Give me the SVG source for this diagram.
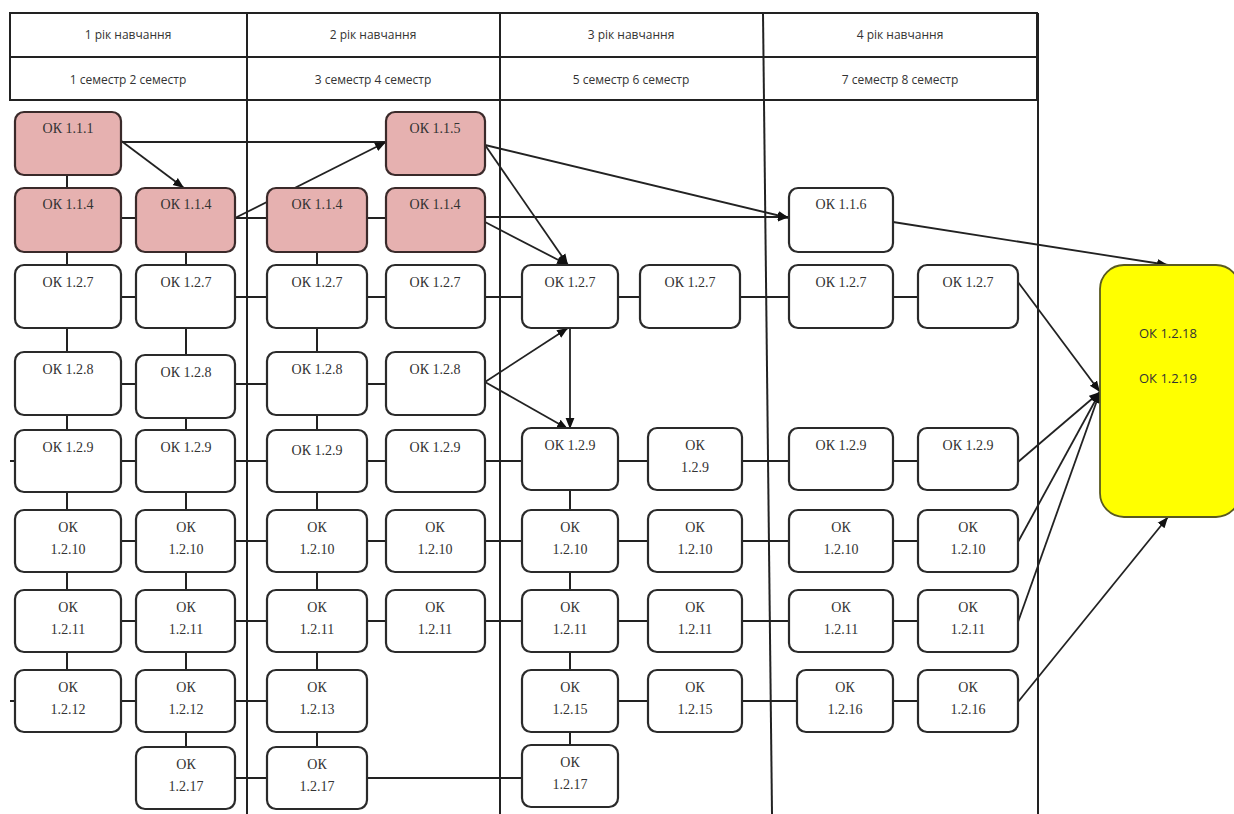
<svg xmlns="http://www.w3.org/2000/svg" width="1234" height="814" viewBox="0 0 1234 814">
<defs>
<marker id="ah" viewBox="0 0 10 10" refX="10" refY="5" markerWidth="11" markerHeight="11" markerUnits="userSpaceOnUse" orient="auto">
<path d="M0,1 L10,5 L0,9 z" fill="#111"/>
</marker>
<style>
.grid{stroke:#222;stroke-width:2;fill:none}
.c{stroke:#222;stroke-width:2;fill:none}
.a{stroke:#222;stroke-width:1.8;fill:none;marker-end:url(#ah)}
.b{fill:#fff;stroke:#2a2a2a;stroke-width:2.2}
.p{fill:#e6b1b0;stroke:#3a2a2a;stroke-width:2.2}
.y{fill:#ffff00;stroke:#5a5a20;stroke-width:1.8}
.t{font-family:"Liberation Serif","Times New Roman",serif;font-size:14px;fill:#333;text-anchor:middle}
.h{font-family:"Open Sans","Liberation Sans",sans-serif;font-size:12px;fill:#333;text-anchor:middle}
.yt{font-family:"Open Sans","Liberation Sans",sans-serif;font-size:13px;fill:#333;text-anchor:middle}
</style>
</defs>
<rect width="1234" height="814" fill="#fff"/>
<g id="header">
<rect class="grid" x="10" y="13" width="1027" height="87"/>
<line class="grid" x1="10" y1="57" x2="1037" y2="57"/>
<line class="grid" x1="247" y1="13" x2="247" y2="814"/>
<line class="grid" x1="500" y1="13" x2="500" y2="814"/>
<line class="grid" x1="763" y1="13" x2="772" y2="814"/>
<line class="grid" x1="1038" y1="13" x2="1038" y2="814" stroke-width="1.5"/>
<text class="h" x="128" y="39">1 рік навчання</text>
<text class="h" x="373" y="39">2 рік навчання</text>
<text class="h" x="631" y="39">3 рік навчання</text>
<text class="h" x="900" y="39">4 рік навчання</text>
<text class="h" x="128" y="84">1 семестр 2 семестр</text>
<text class="h" x="373" y="84">3 семестр 4 семестр</text>
<text class="h" x="631" y="84">5 семестр 6 семестр</text>
<text class="h" x="900" y="84">7 семестр 8 семестр</text>
</g>
<g id="connectors">
<!-- verticals -->
<line class="c" x1="67" y1="143" x2="67" y2="700"/>
<line class="c" x1="186" y1="220" x2="186" y2="777"/>
<line class="c" x1="317" y1="220" x2="317" y2="777"/>
<line class="c" x1="570" y1="460" x2="570" y2="777"/>
<!-- horizontals -->
<line class="c" x1="120" y1="142" x2="385" y2="142"/>
<line class="c" x1="67" y1="218" x2="435" y2="218"/>
<line class="c" x1="67" y1="297" x2="968" y2="297"/>
<line class="c" x1="67" y1="384" x2="435" y2="384"/>
<line class="c" x1="10" y1="461" x2="968" y2="461"/>
<line class="c" x1="67" y1="541" x2="968" y2="541"/>
<line class="c" x1="67" y1="621" x2="968" y2="621"/>
<line class="c" x1="10" y1="701" x2="317" y2="701"/>
<line class="c" x1="570" y1="701" x2="968" y2="701"/>
<line class="c" x1="186" y1="778" x2="570" y2="778"/>
<!-- arrows -->
<line class="a" x1="120" y1="140" x2="184" y2="188"/>
<line class="a" x1="235" y1="218" x2="386" y2="142"/>
<line class="a" x1="485" y1="145" x2="789" y2="218"/>
<line class="a" x1="485" y1="217" x2="789" y2="217"/>
<line class="a" x1="485" y1="145" x2="568" y2="265"/>
<line class="a" x1="485" y1="222" x2="568" y2="265"/>
<line class="a" x1="893" y1="222" x2="1168" y2="265"/>
<line class="a" x1="485" y1="382" x2="568" y2="328"/>
<line class="a" x1="485" y1="382" x2="568" y2="429"/>
<line class="a" x1="570" y1="328" x2="570" y2="429"/>
<line class="a" x1="1018" y1="282" x2="1100" y2="392"/>
<line class="a" x1="1018" y1="462" x2="1100" y2="392"/>
<line class="a" x1="1018" y1="542" x2="1100" y2="392"/>
<line class="a" x1="1018" y1="622" x2="1100" y2="392"/>
<line class="a" x1="1018" y1="702" x2="1168" y2="517"/>
</g>
<!-- row 1 -->
<g id="n-a1"><rect class="p" x="15" y="112" width="106" height="63" rx="9"/><text class="t" x="68" y="133">ОК 1.1.1</text></g>
<g id="n-d1"><rect class="p" x="386" y="112" width="99" height="63" rx="9"/><text class="t" x="435" y="133">ОК 1.1.5</text></g>
<!-- row 2 -->
<g id="n-a2"><rect class="p" x="15" y="188" width="106" height="64" rx="9"/><text class="t" x="68" y="209">ОК 1.1.4</text></g>
<g id="n-b2"><rect class="p" x="136" y="188" width="99" height="64" rx="9"/><text class="t" x="186" y="209">ОК 1.1.4</text></g>
<g id="n-c2"><rect class="p" x="267" y="188" width="100" height="64" rx="9"/><text class="t" x="317" y="209">ОК 1.1.4</text></g>
<g id="n-d2"><rect class="p" x="386" y="188" width="99" height="64" rx="9"/><text class="t" x="435" y="209">ОК 1.1.4</text></g>
<g id="n-g2"><rect class="b" x="789" y="188" width="104" height="64" rx="9"/><text class="t" x="841" y="209">ОК 1.1.6</text></g>
<!-- row 3 -->
<g id="n-a3"><rect class="b" x="15" y="265" width="106" height="63" rx="9"/><text class="t" x="68" y="287">ОК 1.2.7</text></g>
<g id="n-b3"><rect class="b" x="136" y="265" width="99" height="63" rx="9"/><text class="t" x="186" y="287">ОК 1.2.7</text></g>
<g id="n-c3"><rect class="b" x="267" y="265" width="100" height="63" rx="9"/><text class="t" x="317" y="287">ОК 1.2.7</text></g>
<g id="n-d3"><rect class="b" x="386" y="265" width="99" height="63" rx="9"/><text class="t" x="435" y="287">ОК 1.2.7</text></g>
<g id="n-e3"><rect class="b" x="522" y="265" width="96" height="63" rx="9"/><text class="t" x="570" y="287">ОК 1.2.7</text></g>
<g id="n-f3"><rect class="b" x="640" y="265" width="100" height="63" rx="9"/><text class="t" x="690" y="287">ОК 1.2.7</text></g>
<g id="n-g3"><rect class="b" x="789" y="265" width="104" height="63" rx="9"/><text class="t" x="841" y="287">ОК 1.2.7</text></g>
<g id="n-h3"><rect class="b" x="918" y="265" width="100" height="63" rx="9"/><text class="t" x="968" y="287">ОК 1.2.7</text></g>
<!-- row 4 -->
<g id="n-a4"><rect class="b" x="15" y="352" width="106" height="63" rx="9"/><text class="t" x="68" y="374">ОК 1.2.8</text></g>
<g id="n-b4"><rect class="b" x="136" y="355" width="99" height="63" rx="9"/><text class="t" x="186" y="377">ОК 1.2.8</text></g>
<g id="n-c4"><rect class="b" x="267" y="352" width="100" height="63" rx="9"/><text class="t" x="317" y="374">ОК 1.2.8</text></g>
<g id="n-d4"><rect class="b" x="386" y="352" width="99" height="63" rx="9"/><text class="t" x="435" y="374">ОК 1.2.8</text></g>
<!-- row 5 -->
<g id="n-a5"><rect class="b" x="15" y="430" width="106" height="62" rx="9"/><text class="t" x="68" y="452">ОК 1.2.9</text></g>
<g id="n-b5"><rect class="b" x="136" y="430" width="99" height="62" rx="9"/><text class="t" x="186" y="452">ОК 1.2.9</text></g>
<g id="n-c5"><rect class="b" x="267" y="430" width="100" height="62" rx="9"/><text class="t" x="317" y="455">ОК 1.2.9</text></g>
<g id="n-d5"><rect class="b" x="386" y="430" width="99" height="62" rx="9"/><text class="t" x="435" y="452">ОК 1.2.9</text></g>
<g id="n-e5"><rect class="b" x="522" y="428" width="96" height="62" rx="9"/><text class="t" x="570" y="450">ОК 1.2.9</text></g>
<g id="n-f5"><rect class="b" x="648" y="428" width="94" height="62" rx="9"/><text class="t" x="695" y="450">ОК</text><text class="t" x="695" y="472">1.2.9</text></g>
<g id="n-g5"><rect class="b" x="789" y="428" width="104" height="62" rx="9"/><text class="t" x="841" y="450">ОК 1.2.9</text></g>
<g id="n-h5"><rect class="b" x="918" y="428" width="100" height="62" rx="9"/><text class="t" x="968" y="450">ОК 1.2.9</text></g>
<!-- row 6 -->
<g id="n-a6"><rect class="b" x="15" y="510" width="106" height="62" rx="9"/><text class="t" x="68" y="532">ОК</text><text class="t" x="68" y="554">1.2.10</text></g>
<g id="n-b6"><rect class="b" x="136" y="510" width="99" height="62" rx="9"/><text class="t" x="186" y="532">ОК</text><text class="t" x="186" y="554">1.2.10</text></g>
<g id="n-c6"><rect class="b" x="267" y="510" width="100" height="62" rx="9"/><text class="t" x="317" y="532">ОК</text><text class="t" x="317" y="554">1.2.10</text></g>
<g id="n-d6"><rect class="b" x="386" y="510" width="99" height="62" rx="9"/><text class="t" x="435" y="532">ОК</text><text class="t" x="435" y="554">1.2.10</text></g>
<g id="n-e6"><rect class="b" x="522" y="510" width="96" height="62" rx="9"/><text class="t" x="570" y="532">ОК</text><text class="t" x="570" y="554">1.2.10</text></g>
<g id="n-f6"><rect class="b" x="648" y="510" width="94" height="62" rx="9"/><text class="t" x="695" y="532">ОК</text><text class="t" x="695" y="554">1.2.10</text></g>
<g id="n-g6"><rect class="b" x="789" y="510" width="104" height="62" rx="9"/><text class="t" x="841" y="532">ОК</text><text class="t" x="841" y="554">1.2.10</text></g>
<g id="n-h6"><rect class="b" x="918" y="510" width="100" height="62" rx="9"/><text class="t" x="968" y="532">ОК</text><text class="t" x="968" y="554">1.2.10</text></g>
<!-- row 7 -->
<g id="n-a7"><rect class="b" x="15" y="590" width="106" height="62" rx="9"/><text class="t" x="68" y="612">ОК</text><text class="t" x="68" y="634">1.2.11</text></g>
<g id="n-b7"><rect class="b" x="136" y="590" width="99" height="62" rx="9"/><text class="t" x="186" y="612">ОК</text><text class="t" x="186" y="634">1.2.11</text></g>
<g id="n-c7"><rect class="b" x="267" y="590" width="100" height="62" rx="9"/><text class="t" x="317" y="612">ОК</text><text class="t" x="317" y="634">1.2.11</text></g>
<g id="n-d7"><rect class="b" x="386" y="590" width="99" height="62" rx="9"/><text class="t" x="435" y="612">ОК</text><text class="t" x="435" y="634">1.2.11</text></g>
<g id="n-e7"><rect class="b" x="522" y="590" width="96" height="62" rx="9"/><text class="t" x="570" y="612">ОК</text><text class="t" x="570" y="634">1.2.11</text></g>
<g id="n-f7"><rect class="b" x="648" y="590" width="94" height="62" rx="9"/><text class="t" x="695" y="612">ОК</text><text class="t" x="695" y="634">1.2.11</text></g>
<g id="n-g7"><rect class="b" x="789" y="590" width="104" height="62" rx="9"/><text class="t" x="841" y="612">ОК</text><text class="t" x="841" y="634">1.2.11</text></g>
<g id="n-h7"><rect class="b" x="918" y="590" width="100" height="62" rx="9"/><text class="t" x="968" y="612">ОК</text><text class="t" x="968" y="634">1.2.11</text></g>
<!-- row 8 -->
<g id="n-a8"><rect class="b" x="15" y="670" width="106" height="62" rx="9"/><text class="t" x="68" y="692">ОК</text><text class="t" x="68" y="714">1.2.12</text></g>
<g id="n-b8"><rect class="b" x="136" y="670" width="99" height="62" rx="9"/><text class="t" x="186" y="692">ОК</text><text class="t" x="186" y="714">1.2.12</text></g>
<g id="n-c8"><rect class="b" x="267" y="670" width="100" height="62" rx="9"/><text class="t" x="317" y="692">ОК</text><text class="t" x="317" y="714">1.2.13</text></g>
<g id="n-e8"><rect class="b" x="522" y="670" width="96" height="62" rx="9"/><text class="t" x="570" y="692">ОК</text><text class="t" x="570" y="714">1.2.15</text></g>
<g id="n-f8"><rect class="b" x="648" y="670" width="94" height="62" rx="9"/><text class="t" x="695" y="692">ОК</text><text class="t" x="695" y="714">1.2.15</text></g>
<g id="n-g8"><rect class="b" x="797" y="670" width="96" height="62" rx="9"/><text class="t" x="845" y="692">ОК</text><text class="t" x="845" y="714">1.2.16</text></g>
<g id="n-h8"><rect class="b" x="918" y="670" width="100" height="62" rx="9"/><text class="t" x="968" y="692">ОК</text><text class="t" x="968" y="714">1.2.16</text></g>
<!-- row 9 -->
<g id="n-b9"><rect class="b" x="136" y="747" width="99" height="62" rx="9"/><text class="t" x="186" y="769">ОК</text><text class="t" x="186" y="791">1.2.17</text></g>
<g id="n-c9"><rect class="b" x="267" y="747" width="100" height="62" rx="9"/><text class="t" x="317" y="769">ОК</text><text class="t" x="317" y="791">1.2.17</text></g>
<g id="n-e9"><rect class="b" x="522" y="745" width="96" height="62" rx="9"/><text class="t" x="570" y="767">ОК</text><text class="t" x="570" y="789">1.2.17</text></g>
<!-- final -->
<g id="n-final"><rect class="y" x="1100" y="265" width="140" height="252" rx="24"/><text class="yt" x="1168" y="338">ОК 1.2.18</text><text class="yt" x="1168" y="383">ОК 1.2.19</text></g>
</svg>
